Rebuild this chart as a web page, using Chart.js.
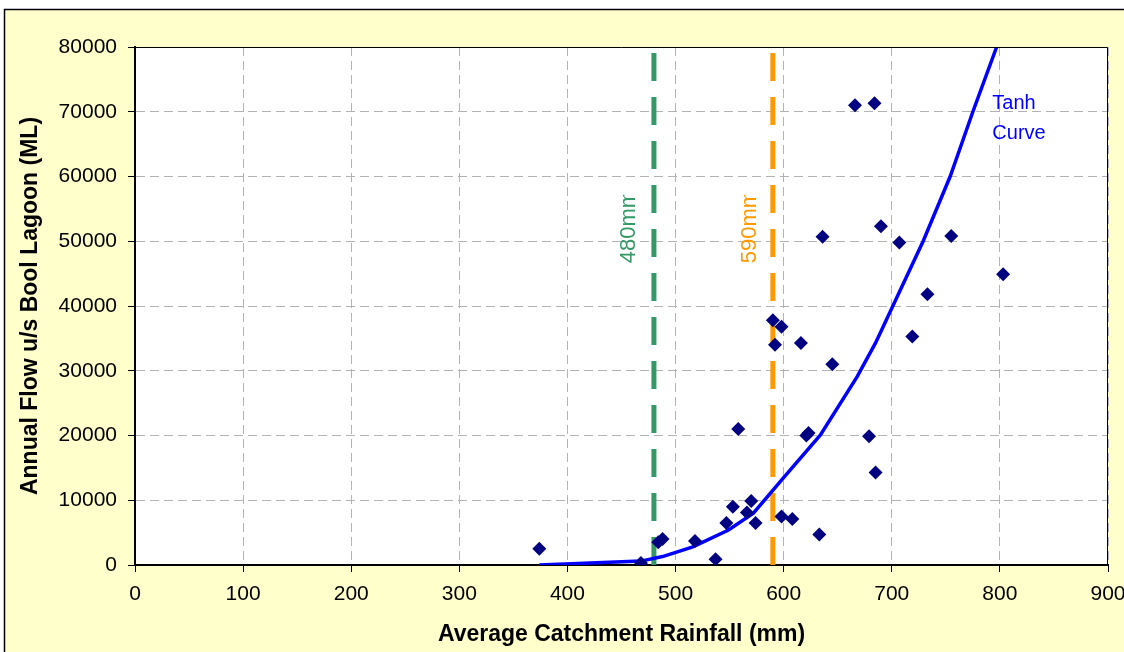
<!DOCTYPE html>
<html>
<head>
<meta charset="utf-8">
<title>Annual Flow vs Rainfall</title>
<script src="https://cdn.jsdelivr.net/npm/chart.js@4.4.1/dist/chart.umd.min.js"></script>
<style>
  html, body { margin: 0; padding: 0; background: #fff; }
  #wrap { width: 1124px; height: 652px; }
</style>
</head>
<body>
<div id="wrap"><canvas id="chart" width="1124" height="652"></canvas></div>
<script>
// observed years: catchment rainfall (mm) vs annual flow (ML)
const rainfall = [374, 468, 484, 488, 518, 537, 547, 553, 566, 570, 574, 598, 608, 633,
  558, 621, 623, 679, 685, 590, 598, 592, 616, 645, 636, 666, 684, 690, 707, 755, 733, 719, 803];
const flow = [2500, 300, 3500, 4000, 3700, 900, 6500, 9000, 8100, 9900, 6500, 7500, 7100, 4700,
  21000, 20000, 20400, 19900, 14300, 37800, 36800, 34000, 34300, 31000, 50700, 71000, 71300, 52300, 49800, 50800, 41800, 35300, 44900];

// fitted tanh curve
const curveRain = [374, 468, 488, 516, 549, 572, 598, 634, 668, 685, 701, 729, 754, 775, 797];
const curveFlow = [0, 600, 1300, 2800, 5400, 8000, 13100, 20100, 29100, 34300, 40000, 50000, 60000, 70000, 80000];

// threshold rainfall lines
const thresholds = [480, 590];
const thresholdLabels = ['480mm', '590mm'];
const thresholdColors = ['#339966', '#FF9900'];

const xMin = 0, xMax = 900, xStep = 100;
const yMin = 0, yMax = 80000, yStep = 10000;

const FONT = 'Arial, "Liberation Sans", sans-serif';
Chart.defaults.font.family = FONT;
Chart.defaults.font.size = 21;
Chart.defaults.color = '#000';

const toPoints = (xs, ys) => xs.map((x, i) => ({ x, y: ys[i] }));

const datasets = [
  {
    type: 'scatter',
    data: toPoints(rainfall, flow),
    pointStyle: 'rectRot',
    pointRadius: 7,
    pointBackgroundColor: '#000080',
    pointBorderColor: '#000080',
    pointBorderWidth: 0,
    order: 0,
  },
  {
    type: 'line',
    data: toPoints(curveRain, curveFlow),
    borderColor: '#0000FF',
    borderWidth: 3.5,
    pointRadius: 0,
    tension: 0,
    fill: false,
    order: 1,
  },
];
thresholds.forEach((t, i) => {
  datasets.push({
    type: 'line',
    data: [{ x: t, y: yMin }, { x: t, y: yMax }],
    borderColor: thresholdColors[i],
    borderWidth: 5,
    borderDash: [28, 16],
    pointRadius: 0,
    fill: false,
    order: 2,
  });
});

// 背景、外框與註解文字
const decorations = {
  id: 'decorations',
  beforeDraw(chart) {
    const { ctx, chartArea: a } = chart;
    ctx.save();
    ctx.fillStyle = '#fff';
    ctx.fillRect(0, 0, chart.width, chart.height);
    ctx.fillStyle = '#FFFFCC';
    ctx.fillRect(4, 9, chart.width, chart.height);
    ctx.strokeStyle = '#000';
    ctx.lineWidth = 1.5;
    ctx.strokeRect(4.5, 9.5, chart.width + 10, chart.height + 10);
    ctx.fillStyle = '#fff';
    ctx.fillRect(a.left, a.top, a.right - a.left, a.bottom - a.top);
    ctx.restore();
  },
  afterDraw(chart) {
    const { ctx, chartArea: a, scales: { x, y } } = chart;
    ctx.save();
    // top / right edges of plot area
    ctx.strokeStyle = '#000';
    ctx.lineWidth = 1;
    ctx.beginPath();
    ctx.moveTo(a.left, a.top + 0.5);
    ctx.lineTo(a.right - 0.5, a.top + 0.5);
    ctx.lineTo(a.right - 0.5, a.bottom);
    ctx.stroke();

    // rotated threshold labels (end of text is cut off like the original)
    ctx.font = '22px ' + FONT;
    ctx.textBaseline = 'middle';
    ctx.textAlign = 'left';
    const labelOffset = [-25, -23];
    thresholds.forEach((t, i) => {
      const px = x.getPixelForValue(t) + labelOffset[i];
      const py = y.getPixelForValue(46600);
      const clipTop = y.getPixelForValue(57200);
      ctx.save();
      ctx.beginPath();
      ctx.rect(px - 20, clipTop, 40, py - clipTop + 5);
      ctx.clip();
      ctx.translate(px, py);
      ctx.rotate(-Math.PI / 2);
      ctx.fillStyle = thresholdColors[i];
      ctx.fillText(thresholdLabels[i], 0, 0);
      ctx.restore();
    });

    // curve label
    ctx.font = '20px ' + FONT;
    ctx.fillStyle = '#0000FF';
    ctx.textBaseline = 'alphabetic';
    const lx = x.getPixelForValue(793);
    const ly = y.getPixelForValue(70400);
    ctx.fillText('Tanh', lx, ly);
    ctx.fillText('Curve', lx, ly + 30);
    ctx.restore();
  },
};

const gridOpts = {
  color: '#B3B3B3',
  lineWidth: 1,
  tickColor: '#000',
  tickLength: 7,
  tickBorderDash: [],
  tickWidth: 1,
};

new Chart(document.getElementById('chart'), {
  data: { datasets },
  options: {
    responsive: false,
    animation: false,
    layout: { padding: { left: 0, top: 47, right: 16, bottom: 0 } },
    plugins: {
      legend: { display: false },
      tooltip: { enabled: false },
    },
    scales: {
      x: {
        type: 'linear',
        min: xMin, max: xMax,
        ticks: { stepSize: xStep, padding: 10, callback: v => String(v), maxRotation: 0 },
        grid: gridOpts,
        border: { color: '#000', width: 2, dash: [9, 5] },
        title: {
          display: true,
          text: 'Average Catchment Rainfall (mm)',
          font: { size: 23, weight: 'bold' },
          padding: { top: 0, bottom: 4 },
        },
        afterFit(s) {
          s.height = 87;
          s.paddingLeft = 0;
          s.paddingRight = 0;
        },
      },
      y: {
        type: 'linear',
        min: yMin, max: yMax,
        ticks: { stepSize: yStep, padding: 11, callback: v => String(v) },
        grid: gridOpts,
        border: { color: '#000', width: 2, dash: [9, 5] },
        title: {
          display: true,
          text: 'Annual Flow u/s Bool Lagoon (ML)',
          font: { size: 23, weight: 'bold' },
          padding: { top: 17, bottom: 0 },
        },
        afterFit(s) {
          s.width = 135;
          s.paddingTop = 0;
          s.paddingBottom = 0;
        },
      },
    },
  },
  plugins: [decorations],
});
</script>
</body>
</html>
